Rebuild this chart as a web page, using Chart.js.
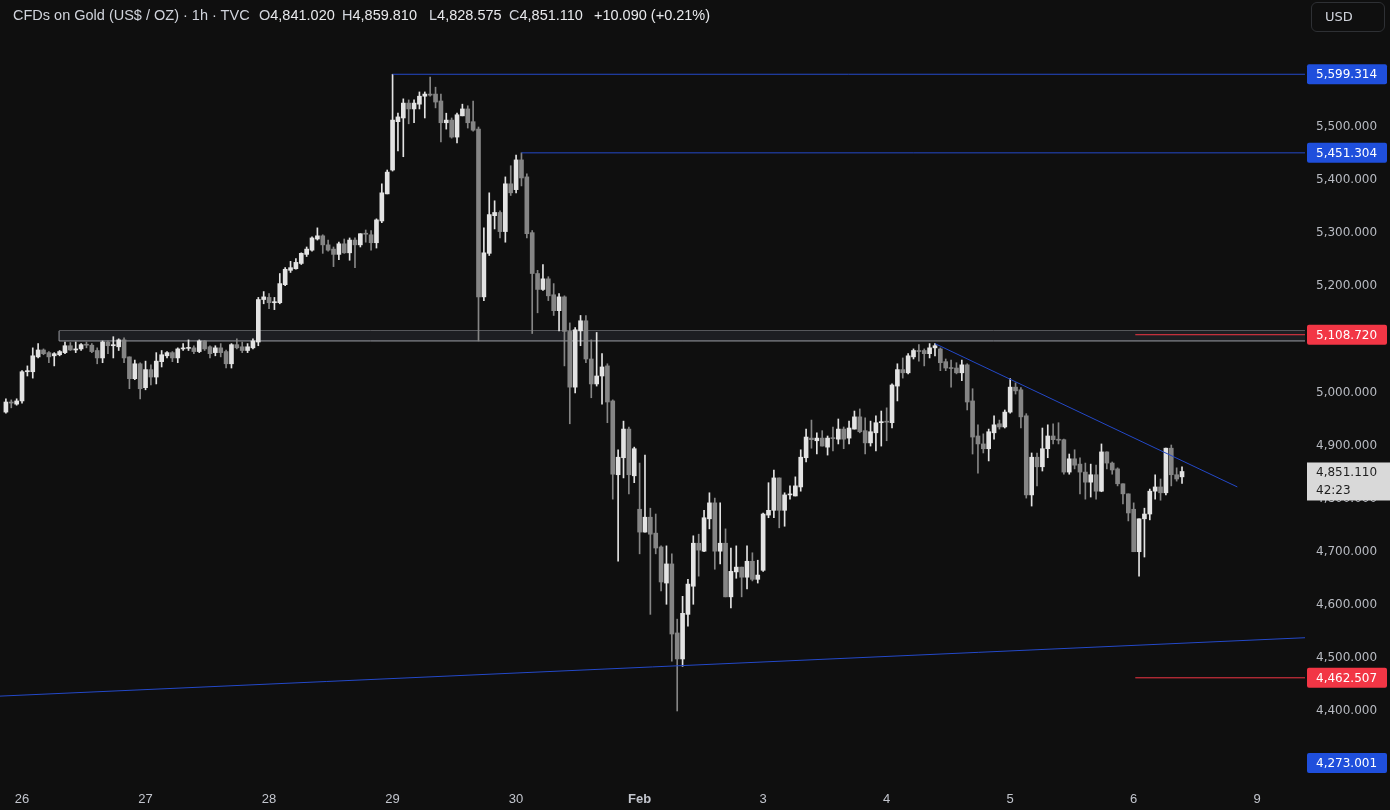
<!DOCTYPE html>
<html>
<head>
<meta charset="utf-8">
<script src="https://cdn.jsdelivr.net/npm/chart.js@4.4.1/dist/chart.umd.min.js"></script>
<style>
html, body { margin: 0; background: #0f0f0f; }
#wrap { position: relative; width: 1390px; height: 810px; background: #0f0f0f; overflow: hidden; }
#chart { position: absolute; left: 0; top: 0; }
.hdr { position: absolute; top: 7px; font: 14.5px "Liberation Sans", Arial, sans-serif; color: #d1d4dc; white-space: pre; }
.hdr b { font-weight: normal; color: #e8e9ec; }
#usd { position: absolute; left: 1311px; top: 2px; width: 74px; height: 30px; box-sizing: border-box;
       border: 1px solid #2e3034; border-radius: 6px; color: #d1d4dc; font: 13px "DejaVu Sans", sans-serif;
       line-height: 28px; padding-left: 13px; }
</style>
</head>
<body>
<div id="wrap">
  <canvas id="chart" width="1390" height="810"></canvas>
  <div class="hdr" style="left:13px">CFDs on Gold (US$ / OZ) · 1h · TVC</div>
  <div class="hdr" style="left:259px">O<b>4,841.020</b></div>
  <div class="hdr" style="left:342px">H<b>4,859.810</b></div>
  <div class="hdr" style="left:429px">L<b>4,828.575</b></div>
  <div class="hdr" style="left:509px">C<b>4,851.110</b></div>
  <div class="hdr" style="left:594px"><b>+10.090 (+0.21%)</b></div>
  <div id="usd">USD</div>
</div>
<script>
// hourly bars, first bar is 3 bars before the Jan 26 session start
const firstIndex = -3;

const opens = [
  4963,4982,4978,4984,5039,5039,5067,5080,5075,5069,
  5071,5075,5088,5080,5082,5090,5089,5079,5065,5095,
  5088,5086,5099,5067,5026,5054,5009,5043,5029,5058,
  5069,5075,5065,5082,5083,5084,5077,5097,5086,5075,
  5084,5077,5054,5090,5086,5079,5084,5095,5175,5179,
  5169,5169,5203,5230,5233,5243,5260,5268,5289,5295,
  5278,5270,5260,5280,5263,5287,5278,5299,5297,5282,
  5323,5374,5419,5510,5517,5545,5534,5543,5558,5562,
  5562,5549,5508,5513,5481,5521,5534,5510,5496,5180,
  5262,5333,5339,5303,5393,5382,5438,5406,5301,5224,
  5194,5214,5184,5154,5180,5115,5010,5116,5135,5063,
  5016,5031,5050,4984,4845,4877,4931,4843,4780,4737,
  4765,4735,4709,4641,4677,4547,4498,4582,4635,4716,
  4701,4762,4792,4701,4716,4615,4662,4671,4652,4682,
  4648,4665,4769,4778,4839,4778,4807,4805,4822,4877,
  4914,4909,4914,4897,4914,4912,4931,4914,4931,4954,
  4928,4905,4924,4943,4945,4943,5012,5043,5037,5067,
  5079,5079,5073,5084,5082,5058,5046,5046,5037,5052,
  4984,4918,4903,4894,4924,4941,4935,4963,5010,5005,
  4956,4807,4878,4860,4894,4918,4911,4911,4850,4875,
  4865,4850,4831,4845,4814,4888,4867,4856,4828,4809,
  4780,4700,4762,4771,4814,4822,4811,4895,4845,4841.02
];
const highs = [
  4988,4986,4988,5041,5050,5084,5092,5082,5077,5075,
  5079,5095,5094,5095,5092,5095,5092,5084,5097,5097,
  5105,5101,5103,5067,5061,5056,5059,5052,5075,5079,
  5077,5077,5084,5092,5099,5088,5099,5098,5088,5088,
  5092,5080,5092,5101,5095,5092,5101,5179,5190,5186,
  5179,5224,5235,5247,5252,5263,5274,5293,5310,5297,
  5287,5274,5283,5289,5291,5291,5299,5306,5305,5327,
  5393,5419,5599.314,5526,5553,5551,5551,5566,5566,5594,
  5575,5562,5526,5517,5526,5543,5540,5549,5500,5310,
  5376,5361,5342,5406,5427,5447,5451.304,5412,5305,5230,
  5241,5218,5205,5186,5182,5131,5122,5145,5145,5099,
  5113,5073,5054,4986,4892,4946,4935,4897,4867,4882,
  4782,4771,4711,4711,4696,4573,4616,4648,4730,4733,
  4778,4811,4801,4792,4743,4707,4711,4671,4711,4698,
  4684,4773,4830,4854,4839,4811,4824,4841,4892,4931,
  4948,4924,4928,4918,4935,4950,4935,4946,4965,4969,
  4952,4946,4956,4965,4971,5016,5054,5065,5073,5082,
  5090,5082,5092,5092,5084,5063,5061,5056,5061,5054,
  5007,4939,4922,4931,4956,4948,4967,5026,5018,5009,
  4960,4886,4886,4933,4939,4941,4943,4912,4884,4892,
  4877,4867,4865,4863,4903,4888,4869,4858,4828,4809,
  4792,4762,4782,4818,4845,4837,4895,4901,4858,4859.81
];
const lows = [
  4961,4971,4976,4980,5031,5027,5065,5071,5056,5050,
  5069,5073,5079,5075,5079,5084,5075,5054,5056,5073,
  5065,5079,5056,5007,5024,4988,5005,5014,5016,5048,
  5065,5058,5056,5079,5079,5073,5075,5079,5065,5069,
  5067,5046,5046,5082,5075,5075,5082,5088,5167,5158,
  5156,5167,5201,5226,5232,5241,5256,5266,5287,5262,
  5266,5237,5250,5262,5249,5235,5274,5283,5268,5272,
  5320,5374,5417,5455,5444,5506,5508,5534,5517,5558,
  5536,5472,5496,5479,5470,5521,5498,5492,5097,5173,
  5258,5308,5291,5283,5371,5376,5389,5291,5111,5150,
  5192,5173,5145,5116,5050,4941,4999,5088,5056,4990,
  5012,4978,4943,4799,4682,4839,4809,4830,4696,4737,
  4582,4696,4626,4601,4494,4400,4484,4560,4601,4654,
  4700,4743,4667,4677,4615,4594,4650,4615,4630,4645,
  4641,4663,4764,4764,4745,4748,4799,4805,4814,4869,
  4895,4884,4899,4882,4890,4903,4894,4903,4931,4924,
  4884,4899,4890,4899,4909,4933,4984,5027,5035,5063,
  5059,5050,5065,5069,5041,5041,5010,5035,5022,4967,
  4884,4848,4886,4871,4912,4931,4933,4961,4997,4933,
  4801,4786,4824,4852,4877,4903,4903,4846,4846,4856,
  4809,4799,4803,4799,4813,4856,4846,4824,4790,4758,
  4700,4654,4690,4760,4799,4797,4807,4824,4833,4828.575
];
const closes = [
  4982,4980,4984,5039,5041,5069,5080,5073,5067,5073,
  5077,5088,5080,5082,5090,5089,5077,5065,5095,5088,
  5090,5099,5065,5026,5054,5007,5043,5029,5059,5071,
  5075,5065,5082,5083,5084,5077,5097,5082,5073,5084,
  5075,5054,5090,5084,5079,5086,5097,5175,5180,5169,
  5171,5205,5232,5235,5245,5262,5270,5291,5295,5278,
  5268,5260,5280,5263,5287,5278,5299,5298,5282,5325,
  5376,5415,5513,5519,5545,5534,5545,5558,5562,5560,
  5547,5508,5513,5481,5523,5534,5508,5494,5180,5263,
  5335,5339,5303,5393,5376,5438,5404,5299,5224,5194,
  5214,5182,5154,5180,5115,5010,5118,5135,5063,5016,
  5031,5048,4982,4846,4878,4931,4845,4894,4737,4765,
  4733,4707,4643,4677,4545,4498,4584,4639,4716,4703,
  4764,4792,4701,4716,4615,4663,4671,4652,4682,4648,
  4656,4771,4778,4839,4778,4807,4808,4824,4878,4916,
  4911,4914,4899,4914,4913,4931,4912,4933,4954,4926,
  4905,4926,4943,4945,4944,5014,5043,5037,5069,5079,
  5077,5073,5084,5088,5056,5046,5045,5037,5052,4982,
  4916,4903,4894,4926,4939,4935,4963,5010,5003,4954,
  4807,4878,4860,4894,4918,4911,4910,4850,4875,4863,
  4850,4831,4845,4814,4888,4867,4854,4828,4809,4773,
  4700,4762,4771,4814,4822,4811,4895,4845,4837,4851.11
];

// time axis: bar index of each session start
const dayTicks = [0, 23, 46, 69, 92, 115, 138, 161, 184, 207, 230];
const dayLabels = ['26', '27', '28', '29', '30', 'Feb', '3', '4', '5', '6', '9'];
const priceTicks = [4300, 4400, 4500, 4600, 4700, 4800, 4900, 5000, 5100, 5200, 5300, 5400, 5500, 5600];

// drawings
const highLevel = 5599.314, highStart = 69;
const midLevel = 5451.304, midStart = 93;
const zoneTop = 5116, zoneBottom = 5097, zoneStart = 6.9;
const redLevels = [5108.72, 4462.507], redStart = 207.3;
const offLevel = 4273.001;
const downTrend = [[170, 5092], [226.3, 4822]];
const upTrend = [[-4.1, 4428], [238.9, 4538]];
const lastPrice = 4851.11, countdown = '42:23';

const X_MIN = -4.1, X_MAX = 238.9;
const Y_MIN = 4283.2, Y_MAX = 5739.2;

const UP = '#e3e3e3', DOWN = '#858585', BLUE = '#2449c9';

const idx = opens.map((_, i) => firstIndex + i);
const barColors = idx.map((_, i) => closes[i] >= opens[i] ? UP : DOWN);
const wicks = idx.map((x, i) => ({ x: x, y: [lows[i], highs[i]] }));
const bodies = idx.map((x, i) => ({ x: x, y: [Math.min(opens[i], closes[i]), Math.max(opens[i], closes[i])] }));

const fmt = v => v.toLocaleString('en-US', { minimumFractionDigits: 3, maximumFractionDigits: 3 });

function seg(points, color, extra) {
    return Object.assign({
        type: 'line',
        data: points.map(p => ({ x: p[0], y: p[1] })),
        borderColor: color, borderWidth: 1, pointRadius: 0, fill: false, order: 1
    }, extra || {});
}

// price tags on the right axis
const priceTags = {
    id: 'priceTags',
    afterDraw(chart) {
        const { ctx, chartArea, scales } = chart;
        const y = scales.y;
        const left = chartArea.right + 2;
        const tags = [
            [highLevel, '#1f4fdc'], [midLevel, '#1f4fdc'],
            [redLevels[0], '#f23645'], [redLevels[1], '#f23645'],
            [offLevel, '#1f4fdc']
        ];
        ctx.save();
        ctx.font = '12px "DejaVu Sans", sans-serif';
        ctx.textBaseline = 'middle';
        tags.forEach(t => {
            let py = y.getPixelForValue(t[0]);
            py = Math.min(Math.max(py, chartArea.top + 10), chartArea.bottom - 10);
            ctx.fillStyle = t[1];
            ctx.beginPath();
            ctx.roundRect(left, py - 10, 80, 20, 2);
            ctx.fill();
            ctx.fillStyle = '#ffffff';
            ctx.fillText(fmt(t[0]), left + 9, py + 1);
        });
        // last price + countdown
        const ly = y.getPixelForValue(lastPrice);
        ctx.fillStyle = '#d9d9d9';
        ctx.fillRect(left, ly - 9, 83, 38);
        ctx.fillStyle = '#1e1e1e';
        ctx.fillText(fmt(lastPrice), left + 9, ly + 1);
        ctx.fillText(countdown, left + 9, ly + 19);
        ctx.restore();
    }
};

new Chart(document.getElementById('chart'), {
    type: 'bar',
    data: {
        datasets: [
            seg([[zoneStart, zoneTop], [X_MAX, zoneTop]], '#9c9ea4', { order: 10 }),
            seg([[zoneStart, zoneBottom], [X_MAX, zoneBottom]], '#9c9ea4', { order: 9, fill: '-1', backgroundColor: '#1d1e22' }),
            seg([[zoneStart, zoneBottom], [zoneStart, zoneTop]], '#9c9ea4', { order: 8 }),
            {
                type: 'bar', data: wicks, backgroundColor: barColors,
                barThickness: 1, grouped: false, order: 3
            },
            {
                type: 'bar', data: bodies, backgroundColor: barColors,
                barThickness: 4, minBarLength: 1, grouped: false, order: 2
            },
            seg([[highStart, highLevel], [X_MAX, highLevel]], BLUE),
            seg([[midStart, midLevel], [X_MAX, midLevel]], BLUE),
            seg([[redStart, redLevels[0]], [X_MAX, redLevels[0]]], '#f23645'),
            seg([[redStart, redLevels[1]], [X_MAX, redLevels[1]]], '#f23645'),
            seg(downTrend, BLUE),
            seg(upTrend, BLUE)
        ]
    },
    options: {
        responsive: false,
        animation: false,
        layout: { padding: 0 },
        plugins: { legend: { display: false }, tooltip: { enabled: false } },
        scales: {
            x: {
                type: 'linear', min: X_MIN, max: X_MAX, offset: false,
                grid: { display: false }, border: { display: false },
                afterFit: s => { s.height = 37; s.paddingLeft = 0; s.paddingRight = 0; },
                afterBuildTicks: s => { s.ticks = dayTicks.map(v => ({ value: v })); },
                ticks: {
                    autoSkip: false, maxRotation: 0, padding: 11, color: '#c3c6ce',
                    font: c => ({ family: '"Liberation Sans", Arial, sans-serif', size: 13, weight: c.index === 5 ? 'bold' : 'normal' }),
                    callback: (v, i) => dayLabels[i]
                }
            },
            y: {
                type: 'linear', position: 'right', min: Y_MIN, max: Y_MAX,
                grid: { display: false, drawTicks: false }, border: { display: false },
                afterFit: s => { s.width = 85; s.paddingTop = 0; s.paddingBottom = 0; },
                afterBuildTicks: s => { s.ticks = priceTicks.map(v => ({ value: v })); },
                ticks: {
                    padding: 11, color: '#b8bbc2',
                    font: { family: '"DejaVu Sans", sans-serif', size: 12 },
                    callback: v => fmt(v)
                }
            }
        }
    },
    plugins: [priceTags]
});
</script>
</body>
</html>
